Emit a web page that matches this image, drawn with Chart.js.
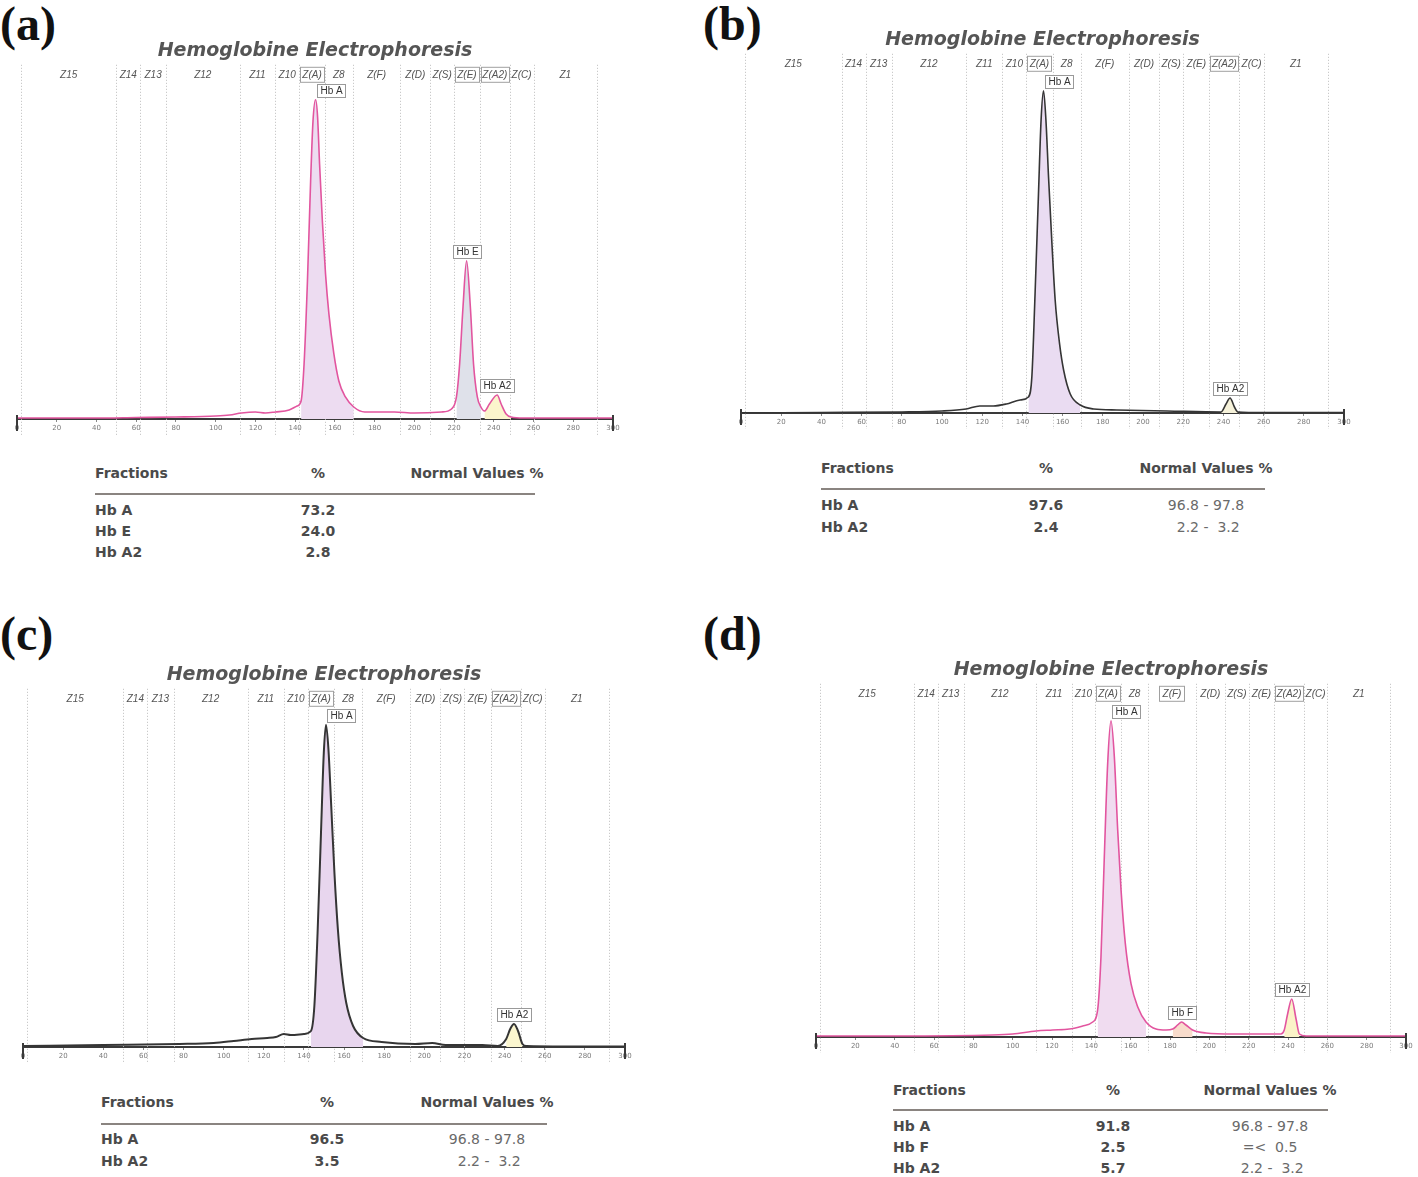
<!DOCTYPE html>
<html>
<head>
<meta charset="utf-8">
<script src="https://cdn.jsdelivr.net/npm/chart.js@4.4.1/dist/chart.umd.min.js"></script>
<style>
body { margin: 0; background: #fff; }
#page { position: relative; width: 1418px; height: 1177px; overflow: hidden; }
.panel-label { position: absolute; font: bold 48px "Liberation Serif", serif; color: #111; line-height: 1; }
canvas.chart { position: absolute; }
.cell { position: absolute; white-space: pre; font: bold 14px "DejaVu Sans", sans-serif; color: #4a4a4a; line-height: 1; transform: translateY(-50%); }
.cell.center { transform: translate(-50%, -50%); }
.cell.normal { font-weight: normal; color: #6a6a6a; }
.rule { position: absolute; height: 2px; background: #8a8480; }
</style>
</head>
<body>
<div id="page"></div>
<script>
// zone edges (migration units) and names, shared by all four runs
const zoneedges = [2, 50, 62, 75, 112, 130, 142, 155, 169, 193, 208, 220, 233, 248, 260, 292];
const zonenames = ["Z15", "Z14", "Z13", "Z12", "Z11", "Z10", "Z(A)", "Z8", "Z(F)", "Z(D)", "Z(S)", "Z(E)", "Z(A2)", "Z(C)", "Z1"];

// (a) Hb E trait
const ax = [0, 20, 40, 60, 80, 100, 107, 113, 120, 125, 130, 137, 141, 143, 144.5, 146.2, 147.8, 149, 150.3, 151.3, 152.3, 153.7, 155.3, 157, 159.5, 162, 165.3, 169.5, 175, 180, 190, 200, 213.7, 218.7, 221.2, 222.8, 224.5, 226.3, 228.2, 229.8, 231.7, 233.5, 235.3, 237.8, 241.7, 243.7, 246.2, 248.7, 255, 270, 285, 300];
const ay = [1, 1, 1, 1.5, 2, 3, 4, 6, 7, 6, 7, 9, 13, 18, 55, 138, 238, 298, 319, 302, 255, 198, 145, 105, 65, 38, 22, 12, 7, 7, 7, 6, 7, 10, 22, 55, 112, 158, 112, 55, 22, 12, 8, 15, 24, 15, 5, 2, 1, 1, 1, 1];
const apeaks = ["Hb A", "Hb E", "Hb A2"];
const aranges = [[143, 172], [220, 234], [235, 249]];
const afractions = ["Hb A", "Hb E", "Hb A2"];
const apercent = ["73.2", "24.0", "2.8"];
const anormal = ["", "", ""];

// (b) normal
const bx = [0, 40, 80, 100, 112, 118.8, 125.5, 132, 138.8, 143, 144.7, 146.3, 148, 149.3, 150.5, 151.7, 153, 154.7, 156.3, 158.5, 160.5, 163.8, 168.8, 175.5, 187, 212, 238.8, 241.3, 243.3, 245.5, 247.2, 260, 300];
const by = [0, 0.5, 1, 2, 4, 7, 7, 9, 13, 16, 36, 119, 219, 293, 322, 293, 236, 169, 113, 69, 43, 19, 8, 4, 3, 2, 1, 9, 15, 6, 1, 0.5, 0.5];
const bpeaks = ["Hb A", "Hb A2"];
const branges = [[143, 172], [238, 248]];
const bfractions = ["Hb A", "Hb A2"];
const bpercent = ["97.6", "2.4"];
const bnormal = ["96.8 - 97.8", " 2.2 -  3.2"];

// (c) raised Hb A2
const cx = [0, 40, 78, 95, 105, 114, 121.7, 126, 130, 133.4, 140, 143.5, 145.2, 146.8, 148.5, 149.9, 151, 152.2, 153.6, 155.2, 156.9, 158.9, 161.1, 164.5, 169.5, 178.7, 195.5, 203.9, 210.6, 229, 236.6, 240.8, 242.8, 244.7, 246.7, 248.9, 250.9, 270, 300];
const cy = [1, 2, 3, 4, 6, 8, 9, 10, 13, 12, 13, 16, 41, 114, 214, 294, 322, 298, 241, 174, 118, 74, 44, 21, 9, 5, 3, 4, 2, 2, 1, 8, 18, 23, 16, 3, 1, 0.5, 0.5];
const cpeaks = ["Hb A", "Hb A2"];
const cranges = [[143, 172], [238, 250]];
const cfractions = ["Hb A", "Hb A2"];
const cpercent = ["96.5", "3.5"];
const cnormal = ["96.8 - 97.8", " 2.2 -  3.2"];

// (d) raised Hb A2 and Hb F
const dx = [0, 40, 89.8, 100, 111.9, 120.3, 128.8, 135.6, 140.7, 143.2, 144.9, 146.6, 148.3, 150, 151.7, 153.4, 155.1, 157.3, 160.2, 163.6, 167.8, 172.9, 178, 181.4, 183.9, 185.9, 188.1, 191.5, 198.3, 211.9, 228.8, 236.4, 238.1, 239.8, 241.9, 244.1, 245.8, 249.2, 270, 300];
const dy = [1, 1, 2, 3, 6, 7, 8, 11, 15, 27, 80, 180, 273, 316, 280, 207, 147, 93, 53, 30, 15, 8, 7, 8, 12, 15, 12, 7, 4, 3, 3, 3, 7, 23, 38, 18, 3, 1, 1, 1];
const dpeaks = ["Hb A", "Hb F", "Hb A2"];
const dranges = [[143, 172], [180, 193], [237, 247]];
const dfractions = ["Hb A", "Hb F", "Hb A2"];
const dpercent = ["91.8", "2.5", "5.7"];
const dnormal = ["96.8 - 97.8", "=<  0.5", " 2.2 -  3.2"];

const page = document.getElementById("page");
const pink = "#e2559f";
const dark = "#353535";

const panels = [
    { tag: "(a)", lx: 0, ly: 0, left: 17, right: 613, top: 65, bottom: 419, xs: ax, ys: ay, peaks: apeaks, ranges: aranges,
      line: pink, lw: 1.6, fills: ["#eddcf1", "#dfe1ea", "#fbf5cc"], boxed: ["Z(A)", "Z(E)", "Z(A2)"],
      table: { fx: 95, px: 318, nx: 477, hy: 473, ry: 510, dy: 21, rl: 95, rr: 535, rule: 493, names: afractions, pct: apercent, norm: anormal } },
    { tag: "(b)", lx: 703, ly: 0, left: 741, right: 1344, top: 54, bottom: 413, xs: bx, ys: by, peaks: bpeaks, ranges: branges,
      line: dark, lw: 1.6, fills: ["#eadcf2", "#f6f2da"], boxed: ["Z(A)", "Z(A2)"],
      table: { fx: 821, px: 1046, nx: 1206, hy: 468, ry: 505, dy: 22, rl: 821, rr: 1265, rule: 488, names: bfractions, pct: bpercent, norm: bnormal } },
    { tag: "(c)", lx: 0, ly: 610, left: 23, right: 625, top: 689, bottom: 1047, xs: cx, ys: cy, peaks: cpeaks, ranges: cranges,
      line: dark, lw: 2, fills: ["#e8d6ee", "#fbf6cf"], boxed: ["Z(A)", "Z(A2)"],
      table: { fx: 101, px: 327, nx: 487, hy: 1102, ry: 1139, dy: 22, rl: 101, rr: 547, rule: 1123, names: cfractions, pct: cpercent, norm: cnormal } },
    { tag: "(d)", lx: 703, ly: 610, left: 816, right: 1406, top: 684, bottom: 1037, xs: dx, ys: dy, peaks: dpeaks, ranges: dranges,
      line: pink, lw: 1.6, fills: ["#f0dcf0", "#f8dccc", "#fbf3c8"], boxed: ["Z(A)", "Z(F)", "Z(A2)"],
      table: { fx: 893, px: 1113, nx: 1270, hy: 1090, ry: 1126, dy: 21, rl: 893, rr: 1328, rule: 1109, names: dfractions, pct: dpercent, norm: dnormal } },
];

// zone lines, zone labels, end bars and peak labels, all placed through the x/y scales
const zoneplugin = {
    id: "zones",
    beforeDatasetsDraw(chart, args, opts) {
        const { ctx, chartArea, scales: { x } } = chart;
        ctx.save();
        ctx.strokeStyle = "#bdbdbd";
        ctx.lineWidth = 1;
        ctx.setLineDash([1, 2]);
        zoneedges.forEach((v) => {
            const px = Math.round(x.getPixelForValue(v)) + 0.5;
            ctx.beginPath();
            ctx.moveTo(px, chartArea.top);
            ctx.lineTo(px, chartArea.bottom + 16);
            ctx.stroke();
        });
        ctx.setLineDash([]);
        ctx.font = "italic 10px 'Liberation Sans'";
        ctx.textAlign = "center";
        ctx.textBaseline = "middle";
        const ty = chartArea.top + 10;
        zonenames.forEach((n, i) => {
            const l = x.getPixelForValue(zoneedges[i]);
            const r = x.getPixelForValue(zoneedges[i + 1]);
            const mid = (l + r) / 2;
            ctx.fillStyle = "#555";
            ctx.fillText(n, mid, ty);
            if (opts.boxed.includes(n)) {
                const bw = Math.round(Math.min(r - l - 2, ctx.measureText(n).width + 6));
                ctx.strokeStyle = "#a0a0a0";
                ctx.strokeRect(Math.round(mid - bw / 2) + 0.5, ty - 7.5, bw, 15);
            }
        });
        ctx.restore();
    },
    afterDatasetsDraw(chart, args, opts) {
        const { ctx, chartArea, scales: { x, y } } = chart;
        const pts = chart.data.datasets[0].data;
        ctx.save();
        // heavy end marks at 0 and 300
        ctx.strokeStyle = "#3a3a3a";
        ctx.lineWidth = 2;
        [x.min, x.max].forEach((v) => {
            const px = x.getPixelForValue(v);
            ctx.beginPath();
            ctx.moveTo(px, chartArea.bottom - 4);
            ctx.lineTo(px, chartArea.bottom + 12);
            ctx.stroke();
        });
        ctx.lineWidth = 1;
        ctx.font = "10px 'Liberation Sans'";
        opts.peaks.forEach((name, i) => {
            const r = opts.ranges[i];
            const inrange = pts.filter((pt) => pt.x >= r[0] && pt.x <= r[1]);
            const top = inrange.reduce((a, b) => (b.y > a.y ? b : a));
            const px = x.getPixelForValue(top.x);
            const py = y.getPixelForValue(top.y);
            const w = Math.round(ctx.measureText(name).width + 6);
            const h = 13;
            const left = Math.round(name === "Hb A" ? px + 1 : px - w / 2);
            const boxtop = Math.round(py - h - 3);
            ctx.fillStyle = "#fff";
            ctx.fillRect(left, boxtop, w, h);
            ctx.strokeStyle = "#999";
            ctx.strokeRect(left + 0.5, boxtop + 0.5, w, h);
            ctx.fillStyle = "#333";
            ctx.textAlign = "left";
            ctx.textBaseline = "middle";
            ctx.fillText(name, left + 3.5, boxtop + h / 2 + 1);
        });
        ctx.restore();
    },
};

function makechart(p) {
    const padl = 17, padr = 25, titleh = 40, axish = 22, padb = 4;
    const w = p.right - p.left + padl + padr;
    const h = p.bottom - p.top + titleh + axish + padb;
    const canvas = document.createElement("canvas");
    canvas.className = "chart";
    canvas.width = w;
    canvas.height = h;
    canvas.style.left = p.left - padl + "px";
    canvas.style.top = p.top - titleh + "px";
    canvas.style.width = w + "px";
    canvas.style.height = h + "px";
    page.appendChild(canvas);

    const points = p.xs.map((v, i) => ({ x: v, y: p.ys[i] }));
    const datasets = [{
        data: points, borderColor: p.line, borderWidth: p.lw, pointRadius: 0,
        fill: false, cubicInterpolationMode: "monotone",
    }];
    p.ranges.forEach((r, i) => {
        datasets.push({
            data: points.filter((pt) => pt.x >= r[0] && pt.x <= r[1]),
            borderWidth: 0, borderColor: "rgba(0,0,0,0)", pointRadius: 0,
            fill: "origin", backgroundColor: p.fills[i], cubicInterpolationMode: "monotone",
        });
    });

    new Chart(canvas, {
        type: "line",
        data: { datasets },
        options: {
            responsive: false,
            animation: false,
            events: [],
            layout: { padding: { left: padl, right: padr, top: 0, bottom: padb } },
            plugins: {
                legend: { display: false },
                tooltip: { enabled: false },
                title: {
                    display: true,
                    text: "Hemoglobine Electrophoresis",
                    color: "#555",
                    font: { family: "DejaVu Sans", size: 19, weight: "bold", style: "italic" },
                    padding: { top: 15, bottom: 2 },
                },
                zones: { boxed: p.boxed, peaks: p.peaks, ranges: p.ranges },
            },
            scales: {
                x: {
                    type: "linear",
                    min: 0,
                    max: 300,
                    afterFit: (s) => { s.height = axish; },
                    ticks: { stepSize: 20, autoSkip: false, maxRotation: 0, color: "#7a7a7a", padding: 2,
                             font: { size: 7, family: "DejaVu Sans" } },
                    grid: { drawOnChartArea: false, tickLength: 3, color: "#888" },
                    border: { color: "#3a3a3a", width: 2 },
                },
                y: { display: false, min: 0, max: p.bottom - p.top },
            },
        },
        plugins: [zoneplugin],
    });
}

function cell(text, x, y, cls) {
    const el = document.createElement("div");
    el.className = "cell " + (cls || "");
    el.textContent = text;
    el.style.left = x + "px";
    el.style.top = y + "px";
    page.appendChild(el);
}

function maketable(t) {
    cell("Fractions", t.fx, t.hy);
    cell("%", t.px, t.hy, "center");
    cell("Normal Values %", t.nx, t.hy, "center");
    const rule = document.createElement("div");
    rule.className = "rule";
    rule.style.left = t.rl + "px";
    rule.style.top = t.rule + "px";
    rule.style.width = t.rr - t.rl + "px";
    page.appendChild(rule);
    t.names.forEach((n, i) => {
        const y = t.ry + i * t.dy;
        cell(n, t.fx, y);
        cell(t.pct[i], t.px, y, "center");
        if (t.norm[i]) cell(t.norm[i], t.nx, y, "center normal");
    });
}

panels.forEach((p) => {
    const lab = document.createElement("div");
    lab.className = "panel-label";
    lab.textContent = p.tag;
    lab.style.left = p.lx + "px";
    lab.style.top = p.ly + "px";
    page.appendChild(lab);
    makechart(p);
    maketable(p.table);
});
</script>
</body>
</html>
